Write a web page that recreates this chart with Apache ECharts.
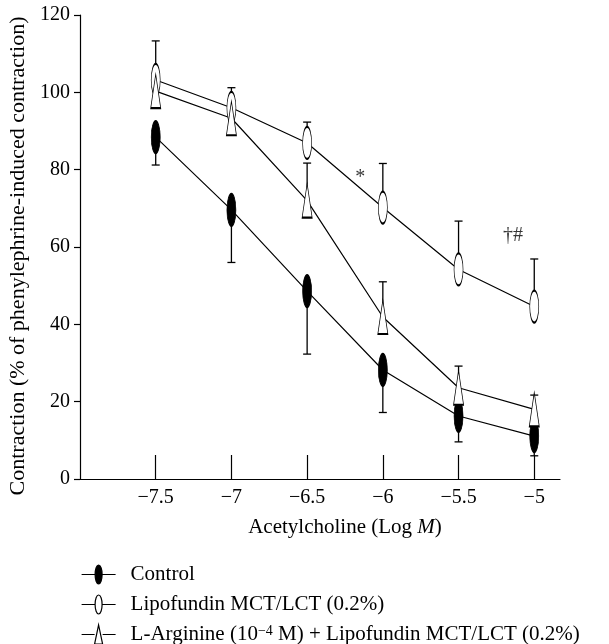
<!DOCTYPE html>
<html>
<head>
<meta charset="utf-8">
<script src="https://cdn.jsdelivr.net/npm/echarts@6/dist/echarts.min.js"></script>
<style>html,body{margin:0;padding:0;background:#fff}#c{width:609px;height:644px}</style>
</head>
<body>
<div id="c"></div>
<script>
// ---- data ----
const doses = [-7.5, -7, -6.5, -6, -5.5, -5];
const tickValues = [-7.5, -7, -6.5, -6, -5.5, -5];
const controlMean = [88.4, 69.6, 48.6, 28.2, 16.3, 11.1];
const controlErr  = [7.2, 13.6, 16.3, 11.0, 6.7, 5.1];
const lipoMean = [103.2, 96.0, 86.9, 70.2, 54.2, 44.6];
const lipoErr  = [10.1, 5.2, 5.4, 11.4, 12.5, 12.3];
const argMean = [100.3, 93.3, 72.0, 41.9, 23.6, 18.0];
const argErr  = [3.0, 3.0, 9.7, 9.1, 5.6, 3.7];
const seriesNames = ['Control', 'Lipofundin MCT/LCT (0.2%)', 'L-Arginine (10−4 M) + Lipofundin MCT/LCT (0.2%)'];
const annotations = [{ name: '*', value: [-6.15, 77.8] }, { name: '†#', value: [-5.14, 63.0] }];

const FONT = 'Liberation Serif';
const ellipse = 'path://M0,-1C0.552,-1 1,-0.552 1,0C1,0.552 0.552,1 0,1C-0.552,1 -1,0.552 -1,0C-1,-0.552 -0.552,-1 0,-1Z';
const legEllipse = 'path://M0,9.5L13.5,9.5M20.5,9.5L34,9.5M17,0C18.93,0 20.5,4.25 20.5,9.5C20.5,14.75 18.93,19 17,19C15.07,19 13.5,14.75 13.5,9.5C13.5,4.25 15.07,0 17,0Z';
const legTriangle = 'path://M0,9.5L13,9.5M21,9.5L34,9.5M17,0L21,19L13,19Z';

const pts = (m) => doses.map((d, i) => [d, m[i]]);
const errPts = (m, e, dir) => doses.map((d, i) => [d, m[i], m[i] + dir * e[i]]);

function errRender(params, api) {
  const x = api.value(0), y0 = api.value(1), y1 = api.value(2);
  const p0 = api.coord([x, y0]), p1 = api.coord([x, y1]);
  const hw = 4;
  return { type: 'group', children: [
    { type: 'line', shape: { x1: p0[0], y1: p0[1], x2: p1[0], y2: p1[1] }, style: { stroke: '#000', lineWidth: 1.3 } },
    { type: 'line', shape: { x1: p1[0] - hw, y1: p1[1], x2: p1[0] + hw, y2: p1[1] }, style: { stroke: '#000', lineWidth: 1.3 } }
  ]};
}
function errSeries(m, e, dir) {
  return { type: 'custom', renderItem: errRender, data: errPts(m, e, dir), encode: { x: 0, y: [1, 2] }, z: 1, silent: true };
}
function lineSeries(name, m, symbol, size, fill) {
  return { name, type: 'line', data: pts(m), symbol, symbolSize: size, z: 3,
    lineStyle: { color: '#000', width: 1.2 },
    itemStyle: { color: fill, borderColor: '#000', borderWidth: 1.2 },
    emphasis: { disabled: true }, animation: false };
}

const chart = echarts.init(document.getElementById('c'));
chart.setOption({
  animation: false,
  grid: { left: 80, right: 49, top: 15, bottom: 165, outerBoundsMode: 'none' },
  xAxis: {
    type: 'value', min: -8, max: -4.83,
    name: 'Acetylcholine (Log {i|M})', nameLocation: 'middle', nameGap: 38,
    nameTextStyle: { fontFamily: FONT, fontSize: 21, color: '#000', padding: [0, 0, 0, 50],
      rich: { i: { fontFamily: FONT, fontSize: 21, fontStyle: 'italic', color: '#000' } } },
    axisLine: { lineStyle: { color: '#000', width: 1.2 } },
    axisTick: { inside: true, length: 24, customValues: tickValues, lineStyle: { color: '#000', width: 1.2 } },
    axisLabel: { customValues: tickValues, margin: 9, fontFamily: FONT, fontSize: 20, color: '#000',
      formatter: v => String(v).replace('-', '−') },
    splitLine: { show: false }
  },
  yAxis: {
    type: 'value', min: 0, max: 120, interval: 20,
    name: 'Contraction (% of phenylephrine-induced contraction)', nameLocation: 'middle', nameGap: 47,
    nameTextStyle: { fontFamily: FONT, fontSize: 22, color: '#000', padding: [0, 18, 0, 0] },
    axisLine: { show: true, lineStyle: { color: '#000', width: 1.2 } },
    axisTick: { show: true, length: 6, lineStyle: { color: '#000', width: 1.2 } },
    axisLabel: { margin: 10, fontFamily: FONT, fontSize: 20, color: '#000' },
    splitLine: { show: false }
  },
  legend: {
    orient: 'vertical', left: 81, top: 564, height: 90, padding: 0,
    itemGap: 9, itemWidth: 34, itemHeight: 19,
    symbolKeepAspect: false,
    data: [
      { name: seriesNames[0], icon: legEllipse, itemStyle: { color: '#000', borderColor: '#000', borderWidth: 1.2 } },
      { name: seriesNames[1], icon: legEllipse, itemStyle: { color: '#fff', borderColor: '#000', borderWidth: 1.2 } },
      { name: seriesNames[2], icon: legTriangle, itemStyle: { color: '#fff', borderColor: '#000', borderWidth: 1.2 } }
    ],
    formatter: n => n.replace('10−4', '10{sup|−4}'),
    textStyle: { fontFamily: FONT, fontSize: 21, color: '#000', padding: [0, 0, 0, 10],
      rich: { sup: { fontFamily: FONT, fontSize: 14, verticalAlign: 'top', color: '#000' } } },
    selectedMode: false
  },
  series: [
    errSeries(controlMean, controlErr, -1),
    errSeries(lipoMean, lipoErr, 1),
    errSeries(argMean, argErr, 1),
    lineSeries(seriesNames[0], controlMean, ellipse, [9, 32], '#000'),
    lineSeries(seriesNames[1], lipoMean, ellipse, [9, 32], '#fff'),
    lineSeries(seriesNames[2], argMean, 'triangle', [10, 34], '#fff'),
    { type: 'scatter', data: annotations, symbolSize: 1, itemStyle: { color: 'rgba(0,0,0,0)' }, silent: true,
      label: { show: true, position: 'inside', formatter: p => p.name, fontFamily: FONT, fontSize: 20, color: '#000' } }
  ]
});
</script>
</body>
</html>
